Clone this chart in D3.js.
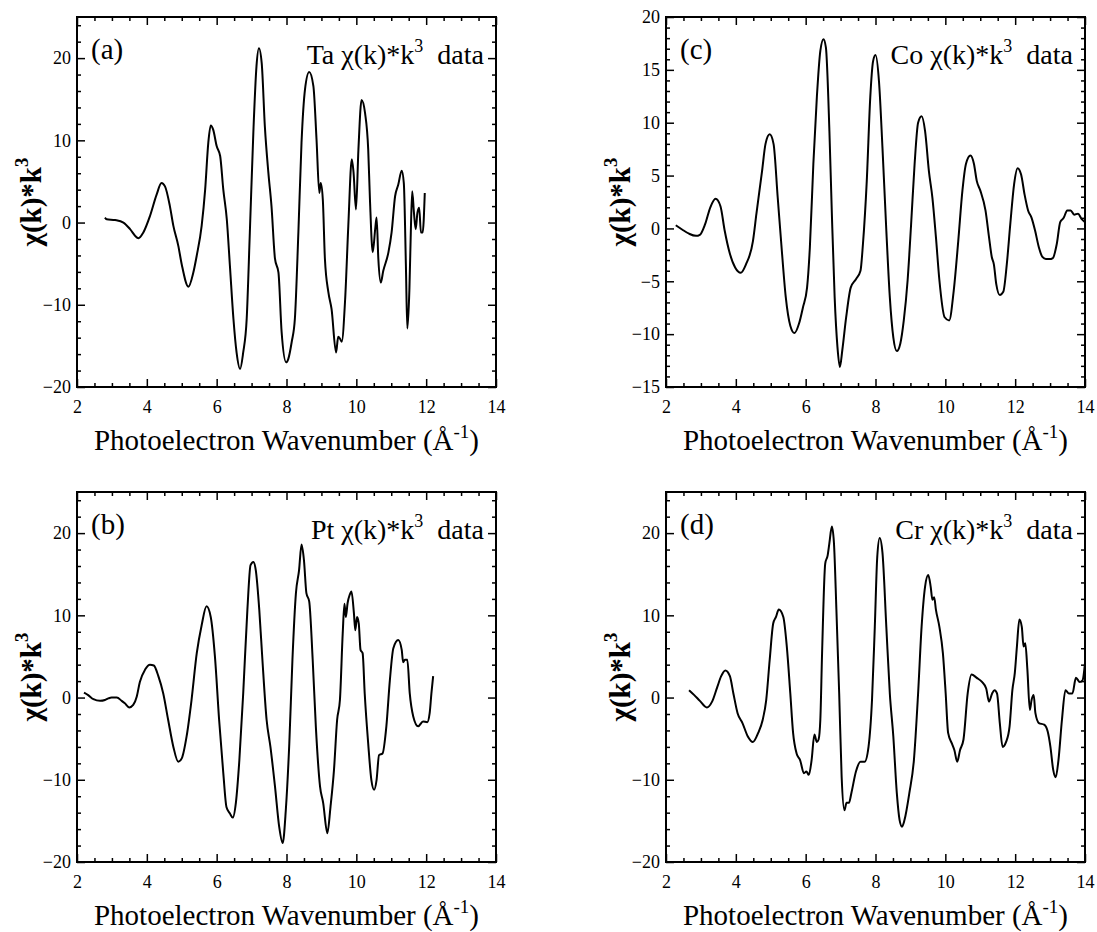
<!DOCTYPE html>
<html>
<head>
<meta charset="utf-8">
<script src="https://cdn.jsdelivr.net/npm/d3@7"></script>
<style>
  html, body { margin: 0; padding: 0; background: #fff; }
  svg { display: block; }
  text { font-family: "Liberation Serif", "Times New Roman", serif; fill: #000; }
</style>
</head>
<body>
<svg id="chart" width="1097" height="932"></svg>
<script>
// Photoelectron wavenumber k (1/Å) and k^3-weighted EXAFS signal for each element

// (a) Ta
const kTa = [2.80,2.85,3.09,3.33,3.52,3.71,3.76,3.90,4.09,4.28,4.42,4.52,4.66,4.76,4.90,5.00,5.19,5.33,5.43,5.57,5.67,5.76,5.83,5.90,6.00,6.10,6.19,6.29,6.38,6.48,6.57,6.67,6.76,6.86,6.95,7.05,7.14,7.21,7.29,7.38,7.48,7.57,7.67,7.77,7.86,7.99,8.05,8.15,8.24,8.34,8.43,8.53,8.65,8.77,8.86,8.94,8.98,9.04,9.10,9.20,9.29,9.42,9.48,9.53,9.58,9.68,9.77,9.87,9.92,9.99,10.06,10.15,10.25,10.34,10.39,10.47,10.54,10.58,10.63,10.70,10.77,10.92,11.01,11.11,11.20,11.30,11.36,11.42,11.46,11.52,11.56,11.60,11.65,11.70,11.75,11.80,11.85,11.90,11.96];
const chiTa = [0.6,0.4,0.3,0.0,-0.8,-1.8,-1.9,-1.2,0.8,3.4,4.8,4.4,2.0,-0.4,-2.8,-5.1,-7.8,-6.1,-4.0,-0.4,4.0,9.7,11.8,11.3,9.3,8.1,4.0,0.4,-5.3,-11.7,-15.8,-17.8,-15.8,-11.7,-1.2,10.9,19.0,21.2,19.4,11.7,6.1,2.0,-4.4,-6.1,-13.3,-17.0,-16.6,-14.5,-11.7,-1.2,9.7,16.2,18.3,16.6,10.1,3.6,4.8,2.8,-4.4,-8.5,-10.5,-15.8,-13.9,-14.1,-14.5,-9.3,-0.4,7.7,6.1,1.6,8.9,14.9,13.3,8.9,2.8,-3.6,-0.8,0.6,-4.4,-7.3,-5.9,-3.6,-1.2,3.2,4.6,6.3,4.8,-5.3,-12.9,-8.1,-1.2,3.8,1.2,-0.8,1.2,1.8,-1.2,-1.2,3.6];

// (b) Pt
const kPt = [2.20,2.32,2.47,2.66,2.80,2.90,2.99,3.14,3.28,3.37,3.50,3.61,3.71,3.80,3.95,4.09,4.20,4.33,4.47,4.61,4.76,4.90,5.00,5.14,5.28,5.43,5.57,5.71,5.83,5.95,6.07,6.19,6.28,6.38,6.46,6.55,6.65,6.76,6.88,6.97,7.05,7.12,7.22,7.31,7.43,7.54,7.67,7.79,7.89,7.98,8.08,8.17,8.27,8.36,8.43,8.50,8.57,8.65,8.75,8.84,8.96,9.05,9.17,9.26,9.36,9.45,9.53,9.61,9.66,9.70,9.75,9.81,9.86,9.93,9.97,10.02,10.07,10.12,10.18,10.24,10.34,10.43,10.51,10.58,10.65,10.75,10.86,10.96,11.06,11.20,11.30,11.34,11.39,11.46,11.53,11.63,11.77,11.91,12.03,12.10,12.15,12.20];
const chiPt = [0.6,0.3,-0.2,-0.4,-0.3,-0.1,0.0,0.0,-0.4,-0.7,-1.2,-0.9,0.1,1.9,3.4,4.0,3.9,2.6,0.5,-2.7,-6.0,-7.8,-7.4,-4.7,-0.3,5.4,8.8,11.1,9.8,5.0,-2.7,-9.2,-13.3,-14.1,-14.6,-12.8,-7.6,0.5,10.7,16.1,16.5,15.5,10.7,4.6,-2.7,-6.0,-10.8,-15.7,-17.7,-13.7,-5.6,4.6,12.7,15.5,18.6,16.7,12.7,11.7,4.6,-3.5,-10.8,-12.8,-16.5,-13.3,-8.8,-2.7,-0.3,7.8,11.4,9.8,11.5,12.5,12.9,10.3,8.2,9.8,9.0,5.8,5.4,0.5,-5.6,-10.0,-11.2,-10.0,-7.0,-6.8,-3.5,2.1,6.0,7.0,5.8,4.3,4.6,4.6,0.5,-2.3,-3.5,-2.9,-3.0,-1.9,0.5,2.6];

// (c) Co
const kCo = [2.28,2.46,2.66,2.86,2.97,3.12,3.27,3.42,3.56,3.68,3.83,3.98,4.14,4.29,4.49,4.59,4.75,4.85,4.97,5.08,5.20,5.31,5.43,5.56,5.68,5.81,5.92,6.04,6.12,6.22,6.32,6.42,6.51,6.58,6.68,6.75,6.83,6.91,6.98,7.05,7.16,7.29,7.44,7.57,7.64,7.75,7.85,7.93,8.00,8.10,8.20,8.31,8.41,8.51,8.61,8.71,8.81,8.92,9.02,9.12,9.22,9.32,9.42,9.53,9.63,9.73,9.83,9.98,10.11,10.24,10.37,10.49,10.59,10.72,10.82,10.90,11.00,11.15,11.25,11.33,11.39,11.46,11.56,11.66,11.76,11.86,11.97,12.07,12.17,12.27,12.37,12.47,12.57,12.68,12.78,12.88,12.98,13.08,13.19,13.29,13.39,13.49,13.59,13.69,13.80,13.90,14.00];
const chiCo = [0.3,-0.1,-0.5,-0.7,-0.6,0.4,2.0,2.8,2.1,-0.2,-2.4,-3.7,-4.2,-3.4,-1.2,1.4,5.4,8.0,8.9,8.0,2.9,-1.8,-6.5,-9.2,-9.9,-9.0,-7.5,-5.6,-1.8,6.1,12.4,16.8,17.9,17.1,9.2,1.4,-6.5,-11.2,-13.1,-11.5,-8.4,-5.6,-4.8,-4.0,-1.5,4.5,12.4,15.8,16.4,13.9,7.6,-0.2,-6.5,-10.3,-11.6,-10.9,-8.7,-4.9,0.4,6.1,10.0,10.6,9.2,5.4,2.9,-0.8,-4.9,-8.4,-8.7,-5.9,-1.2,3.6,6.1,6.9,6.1,4.5,3.6,1.7,-0.8,-2.7,-3.4,-5.3,-6.3,-6.0,-3.4,0.4,4.2,5.7,5.1,3.2,1.7,1.0,-0.2,-1.8,-2.7,-2.9,-2.9,-2.8,-1.5,0.6,1.0,1.7,1.7,1.3,1.4,0.9,0.6];

// (d) Cr
const kCr = [2.66,2.81,2.97,3.17,3.32,3.47,3.58,3.70,3.83,3.93,4.05,4.19,4.34,4.49,4.64,4.77,4.87,4.97,5.07,5.15,5.23,5.36,5.46,5.56,5.64,5.74,5.84,5.95,6.02,6.09,6.17,6.25,6.32,6.37,6.42,6.47,6.56,6.63,6.68,6.75,6.81,6.88,6.96,7.03,7.11,7.17,7.24,7.31,7.44,7.57,7.69,7.80,7.90,7.98,8.05,8.12,8.20,8.31,8.41,8.51,8.61,8.69,8.76,8.83,8.97,9.10,9.22,9.32,9.42,9.51,9.58,9.63,9.68,9.73,9.83,9.93,10.01,10.08,10.19,10.26,10.34,10.42,10.52,10.64,10.75,10.90,11.05,11.17,11.25,11.34,11.41,11.48,11.56,11.64,11.74,11.84,11.92,11.99,12.05,12.12,12.19,12.24,12.29,12.35,12.42,12.47,12.53,12.58,12.68,12.83,12.93,13.01,13.09,13.16,13.24,13.34,13.44,13.54,13.64,13.74,13.85,13.93,14.00];
const chiCr = [0.9,0.3,-0.4,-1.2,-0.5,1.3,2.6,3.3,2.6,0.5,-1.9,-3.1,-4.7,-5.4,-4.3,-2.7,-0.3,4.6,9.0,9.8,10.7,9.8,6.2,0.5,-4.3,-6.8,-7.6,-9.2,-9.0,-9.4,-7.6,-4.5,-5.4,-5.1,-2.7,5.4,16.3,17.3,18.8,20.8,18.8,10.7,0.5,-9.6,-13.7,-12.8,-12.8,-11.6,-9.0,-7.8,-7.8,-6.0,-0.3,8.6,17.1,19.4,17.6,8.6,0.5,-4.7,-11.6,-14.9,-15.7,-14.9,-11.6,-7.6,0.5,8.6,13.5,14.9,13.5,11.9,12.2,10.7,8.6,5.4,0.5,-4.3,-5.6,-6.4,-7.8,-6.4,-5.1,0.5,2.8,2.4,1.9,1.1,-0.5,0.5,0.9,0.5,-3.1,-6.0,-5.4,-3.5,0.9,3.0,6.2,9.5,8.6,6.2,6.6,3.4,-1.5,-0.3,0.3,-1.9,-3.1,-3.3,-4.1,-6.0,-8.8,-9.7,-7.6,-2.7,0.9,0.5,0.5,2.4,1.9,2.1,4.2];

// Axis ranges and tick steps
const kDomain = [2, 14];
const kTicks = [2, 4, 6, 8, 10, 12, 14];
const yTicksWide = [-20, -10, 0, 10, 20];
const yTicksCo = [-15, -10, -5, 0, 5, 10, 15, 20];

const panels = [
  { tag: "(a)", el: "Ta", k: kTa, chi: chiTa, y: [-20, 25], yt: yTicksWide, minor: 2, left: 77,  top: 17 },
  { tag: "(b)", el: "Pt", k: kPt, chi: chiPt, y: [-20, 25], yt: yTicksWide, minor: 2, left: 77,  top: 492 },
  { tag: "(c)", el: "Co", k: kCo, chi: chiCo, y: [-15, 20], yt: yTicksCo,   minor: 1, left: 666, top: 17 },
  { tag: "(d)", el: "Cr", k: kCr, chi: chiCr, y: [-20, 25], yt: yTicksWide, minor: 2, left: 666, top: 492 }
];

const W = 419, H = 370;
const svg = d3.select("#chart");

function range(a, b, s) {
  const out = [];
  for (let v = a; v <= b + 1e-9; v += s) out.push(+v.toFixed(6));
  return out;
}

panels.forEach(p => {
  const g = svg.append("g").attr("transform", `translate(${p.left},${p.top})`);
  const x = d3.scaleLinear().domain(kDomain).range([0, W]);
  const y = d3.scaleLinear().domain(p.y).range([H, 0]);

  const xMinor = range(kDomain[0], kDomain[1], 0.5).filter(v => !kTicks.includes(v));
  const yMinor = range(p.y[0], p.y[1], p.minor).filter(v => !p.yt.includes(v));

  const styleAxis = sel => {
    sel.select(".domain").remove();
    sel.selectAll(".tick line").attr("stroke", "#000").attr("stroke-width", 1.5);
    sel.selectAll(".tick text").style("font-size", "18px")
      .style("font-family", '"Liberation Serif", serif').attr("fill", "#000");
  };

  // bottom (labelled) and top mirror ticks, pointing inward
  g.append("g").attr("transform", `translate(0,${H})`)
    .call(d3.axisBottom(x).tickValues(kTicks).tickSize(-8).tickPadding(13).tickFormat(d3.format("d")))
    .call(styleAxis);
  g.append("g").attr("transform", `translate(0,${H})`)
    .call(d3.axisBottom(x).tickValues(xMinor).tickSize(-4).tickFormat(""))
    .call(styleAxis);
  g.append("g")
    .call(d3.axisTop(x).tickValues(kTicks).tickSize(-8).tickFormat(""))
    .call(styleAxis);
  g.append("g")
    .call(d3.axisTop(x).tickValues(xMinor).tickSize(-4).tickFormat(""))
    .call(styleAxis);

  // left (labelled) and right mirror ticks
  g.append("g")
    .call(d3.axisLeft(y).tickValues(p.yt).tickSize(-8).tickPadding(6).tickFormat(d3.format("d")))
    .call(styleAxis);
  g.append("g")
    .call(d3.axisLeft(y).tickValues(yMinor).tickSize(-4).tickFormat(""))
    .call(styleAxis);
  g.append("g").attr("transform", `translate(${W},0)`)
    .call(d3.axisRight(y).tickValues(p.yt).tickSize(-8).tickFormat(""))
    .call(styleAxis);
  g.append("g").attr("transform", `translate(${W},0)`)
    .call(d3.axisRight(y).tickValues(yMinor).tickSize(-4).tickFormat(""))
    .call(styleAxis);

  // frame
  g.append("rect").attr("width", W).attr("height", H)
    .attr("fill", "none").attr("stroke", "#000").attr("stroke-width", 2);

  // data curve
  const pts = p.k.map((kv, i) => [kv, p.chi[i]]);
  const line = d3.line().x(d => x(d[0])).y(d => y(d[1])).curve(d3.curveMonotoneX);
  g.append("path").datum(pts).attr("d", line)
    .attr("fill", "none").attr("stroke", "#000").attr("stroke-width", 2)
    .attr("stroke-linejoin", "round");

  // panel tag
  g.append("text").attr("x", 14).attr("y", 42).style("font-size", "29px").text(p.tag);

  // panel title: "<El> χ(k)*k³ data"
  const t = g.append("text").attr("x", W - 12).attr("y", 47)
    .attr("text-anchor", "end").style("font-size", "28px");
  t.append("tspan").text(`${p.el} χ(k)*k`);
  t.append("tspan").attr("dy", -12).style("font-size", "18px").text("3");
  t.append("tspan").attr("dy", 12).text("\u00a0 data");

  // x-axis title
  const xt = g.append("text").attr("x", W / 2).attr("y", H + 63)
    .attr("text-anchor", "middle").style("font-size", "29px");
  xt.append("tspan").text("Photoelectron Wavenumber (Å");
  xt.append("tspan").attr("dy", -12).style("font-size", "19px").text("-1");
  xt.append("tspan").attr("dy", 12).text(")");

  // y-axis title
  const yt = g.append("text")
    .attr("transform", `translate(-36,${H / 2}) rotate(-90)`)
    .attr("text-anchor", "middle").style("font-size", "29px").style("font-weight", "bold");
  yt.append("tspan").text("χ(k)*k");
  yt.append("tspan").attr("dy", -13).style("font-size", "19px").text("3");
});
</script>
</body>
</html>
